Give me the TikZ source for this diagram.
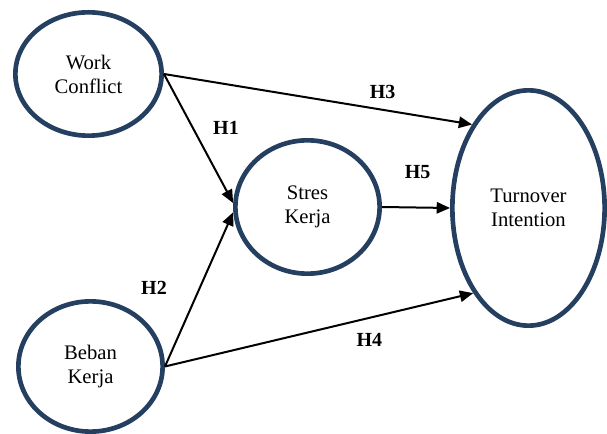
\documentclass[tikz,border=0pt]{standalone}
\usepackage{fontspec}
\setmainfont{Liberation Serif}
\usetikzlibrary{shapes.geometric,arrows.meta}
\definecolor{navy}{HTML}{243F60}
\begin{document}
\begin{tikzpicture}[x=0.75pt,y=-0.75pt,
  latent/.style={ellipse,draw=navy,line width=3.5pt,inner sep=0pt,align=center,
    font=\fontsize{15.5}{18}\selectfont},
  path/.style={line width=1.5pt,-{Triangle[length=10pt,width=8.5pt]}},
  hyp/.style={font=\fontsize{15}{18}\selectfont\bfseries}]
\useasboundingbox (0,0) rectangle (607,434);
\node[latent,minimum width=109.7pt,minimum height=92.5pt] (wc) at (88.5,74) {Work\\Conflict};
\node[latent,minimum width=108.2pt,minimum height=97.7pt] (bk) at (90.5,366.5) {Beban\\Kerja};
\node[latent,minimum width=108.2pt,minimum height=100pt] (sk) at (307.5,207) {Stres\\Kerja};
\node[latent,minimum width=114.2pt,minimum height=176.5pt] (ti) at (528.5,208) {Turnover\\Intention};
\draw[path] (wc.east) -- (ti.124);
\draw[path] (wc.east) -- (sk.177);
\draw[path] (bk.east) -- (sk.184);
\draw[path] (bk.east) -- (ti.237);
\draw[path] (sk.east) -- (ti.west);
\node[hyp] (h1) at (226,128) {H1};
\node[hyp] (h2) at (154,288.3) {H2};
\node[hyp] (h3) at (382.7,91.7) {H3};
\node[hyp] (h4) at (369.3,340) {H4};
\node[hyp] (h5) at (417.7,171.7) {H5};
\end{tikzpicture}
\end{document}
